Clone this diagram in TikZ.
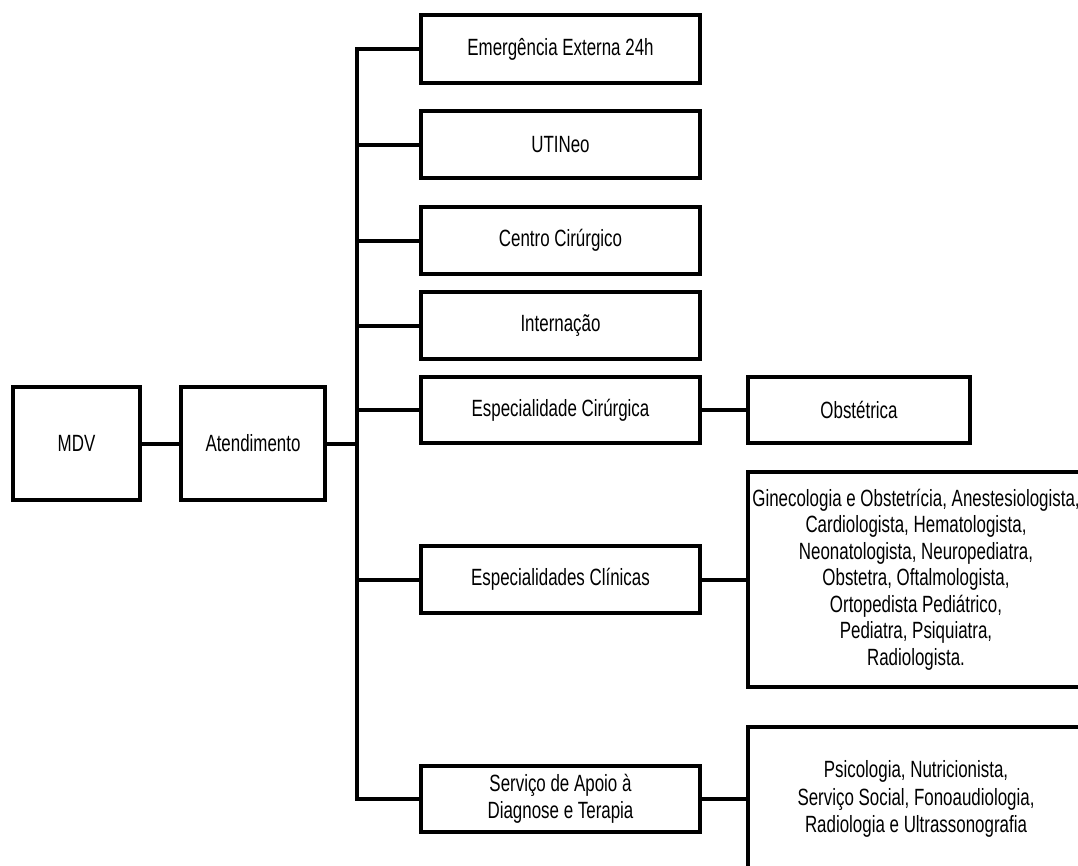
\documentclass[tikz,border=0pt]{standalone}
\usepackage{fontspec}
\setmainfont[FakeStretch=0.72]{Liberation Sans}
\begin{document}
\begin{tikzpicture}[x=1pt,y=-1pt,
  box/.style={draw=black,line width=4pt,rectangle,inner sep=0pt,align=center,
    font=\fontsize{23.5pt}{26.5pt}\selectfont},
  colbox/.style={box,minimum width=279pt},
  link/.style={draw=black,line width=4pt}]
\useasboundingbox (0,0) rectangle (1078,865);
\clip (0,0) rectangle (1078,865);
\node[box,minimum width=127pt,minimum height=113pt] (mdv) at (76.5,443.5) {MDV};
\node[box,minimum width=144pt,minimum height=113pt] (atend) at (253,443.5) {Atendimento};
\node[colbox,minimum height=68pt] (emerg) at (560.5,49) {Emergência Externa 24h};
\node[colbox,minimum height=67pt] (uti) at (560.5,144.5) {UTINeo};
\node[colbox,minimum height=67pt] (centro) at (560.5,240.5) {Centro Cirúrgico};
\node[colbox,minimum height=67pt] (intern) at (560.5,325.5) {Internação};
\node[colbox,minimum height=66pt] (espcir) at (560.5,410) {Especialidade Cirúrgica};
\node[colbox,minimum height=67pt] (espcli) at (560.5,579.5) {Especialidades Clínicas};
\node[colbox,minimum height=66pt] (apoio) at (560.5,799) {Serviço de Apoio à\\Diagnose e Terapia};
\node[box,minimum width=222pt,minimum height=66pt] (obst) at (859,410) {Obstétrica};
\node[box,minimum width=336pt,minimum height=215pt] (clilist) at (916,579.5) {Ginecologia e Obstetrícia, Anestesiologista,\\Cardiologista, Hematologista,\\Neonatologista, Neuropediatra,\\Obstetra, Oftalmologista,\\Ortopedista Pediátrico,\\Pediatra, Psiquiatra,\\Radiologista.};
\node[box,minimum width=336pt,minimum height=144pt,font=\fontsize{23.5pt}{27.5pt}\selectfont] (apoiolist) at (916,799) {Psicologia, Nutricionista,\\Serviço Social, Fonoaudiologia,\\Radiologia e Ultrassonografia};
\coordinate (trunk) at (357,443.5);
\draw[link] (mdv.east) -- (atend.west);
\draw[link] (atend.east) -- (trunk);
\draw[link,line cap=rect] (trunk|-emerg.west) -- (trunk|-apoio.west);
\foreach \n in {emerg,uti,centro,intern,espcir,espcli,apoio}
  \draw[link] (trunk|-\n.west) -- (\n.west);
\draw[link] (espcir.east) -- (obst.west);
\draw[link] (espcli.east) -- (espcli.east-|clilist.west);
\draw[link] (apoio.east) -- (apoio.east-|apoiolist.west);
\end{tikzpicture}
\end{document}
